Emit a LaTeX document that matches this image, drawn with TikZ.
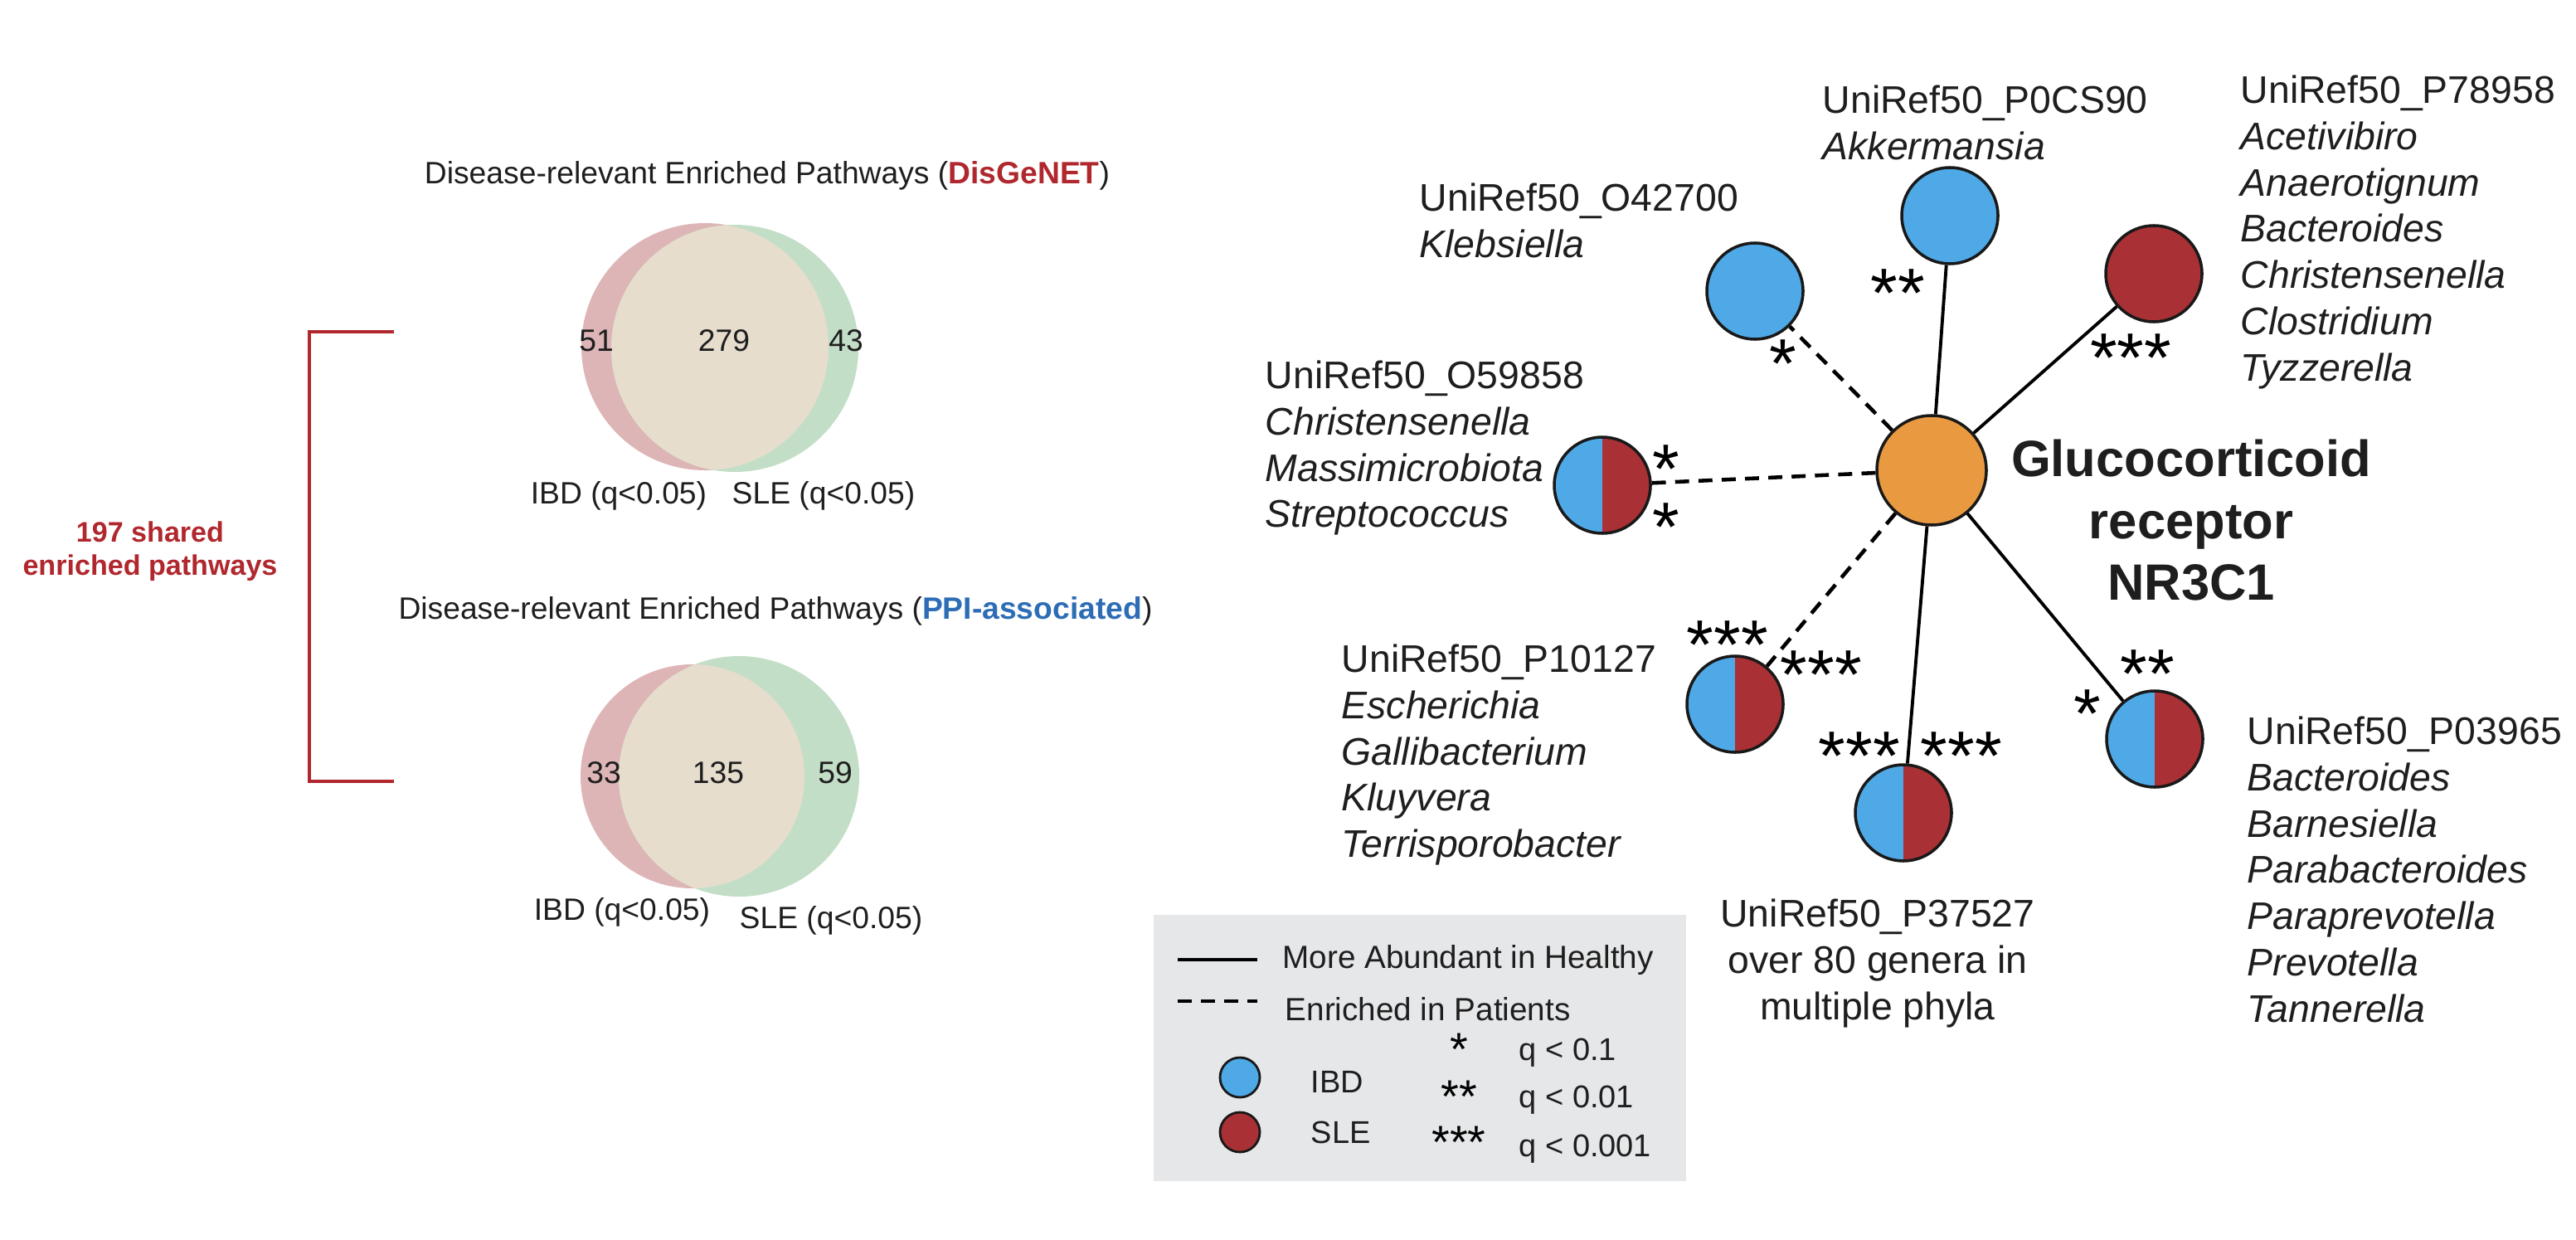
\documentclass[tikz,border=0pt]{standalone}
\usepackage{fontspec}
\setmainfont{Liberation Sans}
\usepackage{tikz}
\usetikzlibrary{positioning}
\usepackage{xcolor}
\definecolor{ibdblue}{HTML}{4EA9E6}
\definecolor{slered}{HTML}{A93135}
\definecolor{grorange}{HTML}{E99A41}
\definecolor{vennpink}{HTML}{DDB5B6}
\definecolor{venngreen}{HTML}{C3DEC7}
\definecolor{vennmix}{HTML}{E6DDCD}
\definecolor{brackred}{HTML}{B0272D}
\definecolor{ppiblue}{HTML}{2D6DB5}
\definecolor{legendgray}{HTML}{E6E7E9}
\definecolor{inktext}{HTML}{1E1E1E}

\begin{document}
\begin{tikzpicture}[
txt/.style={font=\fontsize{10.6}{12.7}\selectfont, inner sep=0, text=inktext},
lab/.style={font=\fontsize{13.2}{15.9}\selectfont, align=left, anchor=north west, inner sep=0, text=inktext},
stars/.style={font=\fontsize{23.9}{24}\selectfont, inner sep=0, anchor=base},
keystars/.style={font=\fontsize{15.9}{16}\selectfont, inner sep=0, anchor=base},
bug/.style={circle, draw=black!90, line width=1pt, minimum size=1.16cm, inner sep=0},
half/.style={bug, path picture={
  \fill[ibdblue] (path picture bounding box.south west) rectangle (path picture bounding box.north);
  \fill[slered] (path picture bounding box.south) rectangle (path picture bounding box.north east);}},
healthy/.style={line width=1.1pt},
patient/.style={line width=1.3pt, dash pattern=on 4.8pt off 3.2pt}]

\useasboundingbox (0,0) rectangle (31.06,14.94);

\begin{scope}[xshift=0cm]{
%venn top
\node[txt] (title1) at (9.25,12.82)
{Disease-relevant Enriched Pathways (\textcolor{brackred}{\textbf{DisGeNET}})};

\fill[vennpink] (8.50,10.76) circle (1.49);
\fill[venngreen] (8.86,10.74) circle (1.49);
\begin{scope}
\clip (8.50,10.76) circle (1.49);
\fill[vennmix] (8.86,10.74) circle (1.49);
\end{scope}

\node[txt] (n51) at (7.19,10.83) {51};
\node[txt] (n279) at (8.73,10.83) {279};
\node[txt] (n43) at (10.20,10.83) {43};

\node[txt] (ibd1) at (7.46,8.96) {IBD (q<0.05)};
\node[txt] (sle1) at (9.93,8.96) {SLE (q<0.05)};

%venn bottom
\node[txt] (title2) at (9.35,7.57)
{Disease-relevant Enriched Pathways (\textcolor{ppiblue}{\textbf{PPI-associated}})};

\fill[vennpink] (8.35,5.58) circle (1.35);
\fill[venngreen] (8.91,5.58) circle (1.45);
\begin{scope}
\clip (8.35,5.58) circle (1.35);
\fill[vennmix] (8.91,5.58) circle (1.45);
\end{scope}

\node[txt] (n33) at (7.28,5.62) {33};
\node[txt] (n135) at (8.66,5.62) {135};
\node[txt] (n59) at (10.07,5.62) {59};

\node[txt] (ibd2) at (7.50,3.94) {IBD (q<0.05)};
\node[txt] (sle2) at (10.02,3.84) {SLE (q<0.05)};

%bracket
\draw[brackred, line width=1.1pt] (4.75,10.94)--(3.73,10.94)--(3.73,5.52)--(4.75,5.52);
\node[anchor=north, inner sep=0, align=center, text=brackred] (shared) at (1.81,8.66)
[font=\fontsize{9.7}{11.4}\selectfont\bfseries]
{197 shared\\enriched pathways};
} \end{scope}


\begin{scope}[xshift=0cm]{
%network circles
\node[bug, fill=grorange, minimum size=1.32cm] (gr) at (23.29,9.27) {};
\node[bug, fill=ibdblue] (kleb) at (21.16,11.43) {};
\node[bug, fill=ibdblue] (akk) at (23.51,12.34) {};
\node[bug, fill=slered] (p789) at (25.97,11.64) {};
\node[half] (o598) at (19.32,9.09) {};
\node[half] (p101) at (20.92,6.45) {};
\node[half] (p375) at (22.95,5.14) {};
\node[half] (p039) at (25.98,6.03) {};

%edges
\draw[patient] (gr)--(kleb);
\draw[healthy] (gr)--(akk);
\draw[healthy] (gr)--(p789);
\draw[patient] (gr)--(o598);
\draw[patient] (gr)--(p101);
\draw[healthy] (gr)--(p375);
\draw[healthy] (gr)--(p039);

%stars
\node[stars] (skleb) at (21.50,10.27) {*};
\node[stars] (sakk) at (22.88,11.12) {**};
\node[stars] (sp789) at (25.69,10.34) {***};
\node[stars] (so598a) at (20.09,9.00) {*};
\node[stars] (so598b) at (20.09,8.30) {*};
\node[stars] (sp101a) at (20.83,6.88) {***};
\node[stars] (sp101b) at (21.96,6.52) {***};
\node[stars] (sp375a) at (22.42,5.54) {***};
\node[stars] (sp375b) at (23.65,5.54) {***};
\node[stars] (sp039a) at (25.89,6.53) {**};
\node[stars] (sp039b) at (25.17,6.05) {*};

%labels
\node[anchor=north, align=center, inner sep=0, text=inktext] (grlab) at (26.42,9.65)
[font=\fontsize{17.5}{21.3}\selectfont\bfseries]
{Glucocorticoid\\receptor\\NR3C1};

\node[lab] (lkleb) at (17.11,12.74) {UniRef50\_O42700\\\textit{Klebsiella}};
\node[lab] (lakk) at (21.97,13.92) {UniRef50\_P0CS90\\\textit{Akkermansia}};
\node[lab] (lp789) at (27.01,14.04)
{UniRef50\_P78958\\\textit{Acetivibiro}\\\textit{Anaerotignum}\\\textit{Bacteroides}\\\textit{Christensenella}\\\textit{Clostridium}\\\textit{Tyzzerella}};
\node[lab] (lo598) at (15.25,10.60)
{UniRef50\_O59858\\\textit{Christensenella}\\\textit{Massimicrobiota}\\\textit{Streptococcus}};
\node[lab] (lp101) at (16.17,7.18)
{UniRef50\_P10127\\\textit{Escherichia}\\\textit{Gallibacterium}\\\textit{Kluyvera}\\\textit{Terrisporobacter}};
\node[lab] (lp039) at (27.09,6.31)
{UniRef50\_P03965\\\textit{Bacteroides}\\\textit{Barnesiella}\\\textit{Parabacteroides}\\\textit{Paraprevotella}\\\textit{Prevotella}\\\textit{Tannerella}};
\node[lab, anchor=north, align=center] (lp375) at (22.64,4.11)
{UniRef50\_P37527\\over 80 genera in\\multiple phyla};
} \end{scope}


\begin{scope}[xshift=0cm]{
%legend
\fill[legendgray] (13.91,0.70) rectangle (20.33,3.91);

\draw[healthy] (14.20,3.37)--(15.16,3.37);
\draw[patient] (14.20,2.87)--(15.16,2.87);
\node[txt, anchor=west, font=\fontsize{11}{13}\selectfont] (khealthy) at (15.46,3.37) {More Abundant in Healthy};
\node[txt, anchor=west, font=\fontsize{11}{13}\selectfont] (kpatient) at (15.49,2.77) {Enriched in Patients};

\node[circle, draw=black!90, line width=0.8pt, fill=ibdblue, minimum size=0.48cm, inner sep=0] (kibd) at (14.95,1.95) {};
\node[circle, draw=black!90, line width=0.8pt, fill=slered, minimum size=0.48cm, inner sep=0] (ksle) at (14.95,1.29) {};
\node[txt, anchor=west, font=\fontsize{10.8}{13}\selectfont] (kibdt) at (15.80,1.90) {IBD};
\node[txt, anchor=west, font=\fontsize{10.8}{13}\selectfont] (kslet) at (15.80,1.29) {SLE};

\node[keystars] (ks1) at (17.59,2.10) {*};
\node[keystars] (ks2) at (17.59,1.53) {**};
\node[keystars] (ks3) at (17.59,0.98) {***};
\node[txt, anchor=west, font=\fontsize{10.8}{13}\selectfont] (kq1) at (18.31,2.25) {q < 0.1};
\node[txt, anchor=west, font=\fontsize{10.8}{13}\selectfont] (kq2) at (18.31,1.68) {q < 0.01};
\node[txt, anchor=west, font=\fontsize{10.8}{13}\selectfont] (kq3) at (18.31,1.09) {q < 0.001};
} \end{scope}

\end{tikzpicture}
\end{document}
